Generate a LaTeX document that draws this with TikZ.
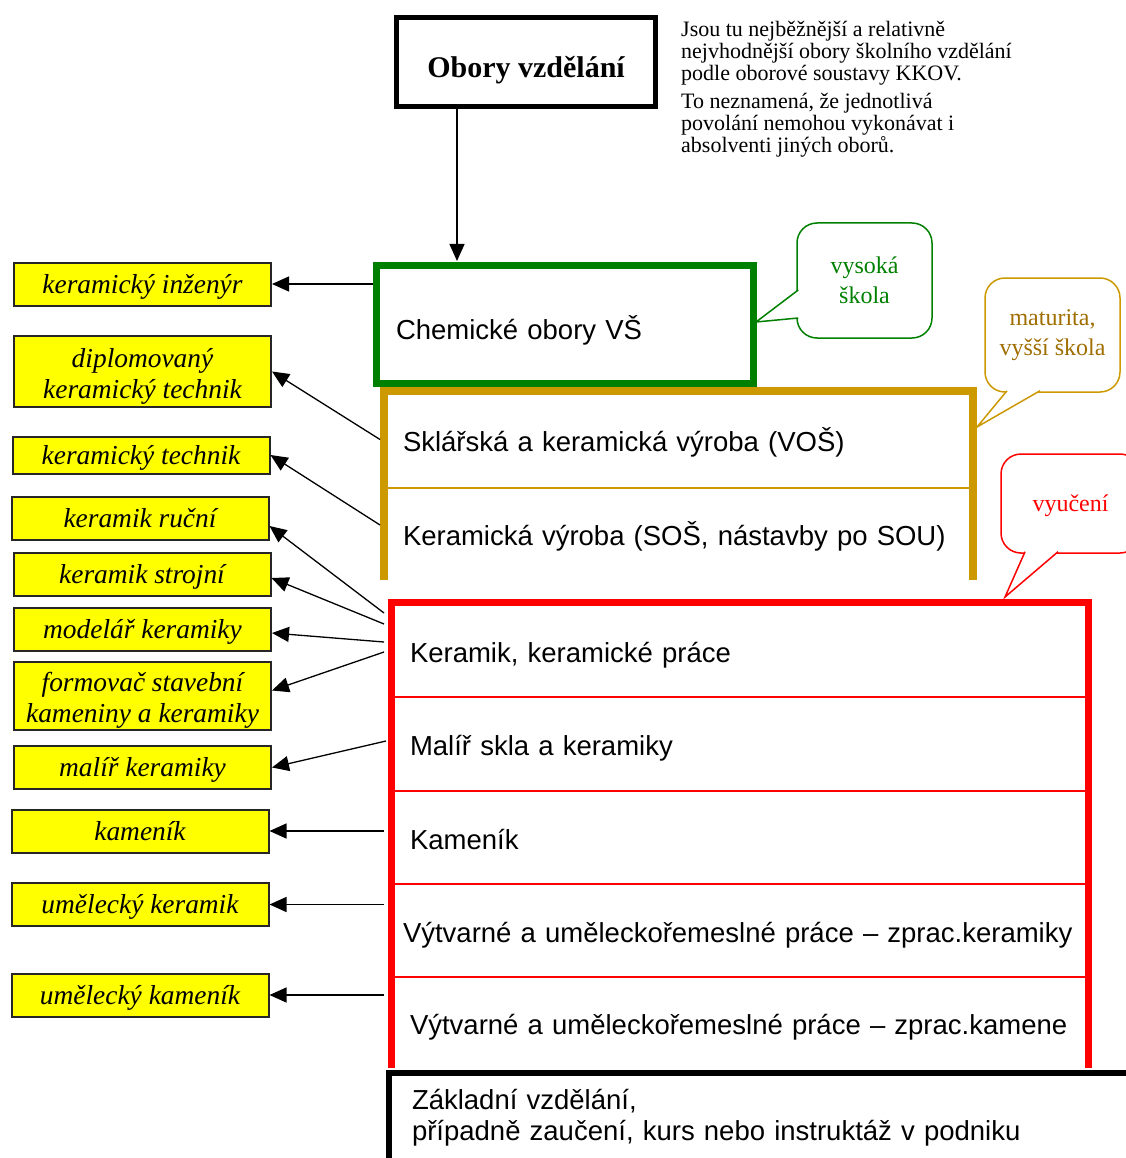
\documentclass[tikz,border=0pt]{standalone}
\usepackage{fontspec}
\setmainfont{Liberation Serif}
\setsansfont{Liberation Sans}
\usepackage{tikz}
\usetikzlibrary{arrows.meta,positioning}
\definecolor{zelena}{RGB}{0,128,0}
\definecolor{okr}{RGB}{204,153,0}
\definecolor{okrtext}{RGB}{160,110,0}
\definecolor{cervena}{RGB}{255,0,0}
\definecolor{zluta}{RGB}{255,255,0}

\begin{document}
\begin{tikzpicture}[x=1pt, y=-1pt, povolani/.style={rectangle, draw=black!85, line width=2pt, fill=zluta, minimum width=257pt, minimum height=43pt, align=center, inner sep=2pt, text height=18pt, text depth=0pt, font=\fontsize{27.4}{31}\selectfont\itshape}, dvaradky/.style={text height=55pt, text depth=2pt}, radek/.style={rectangle, inner xsep=19pt, inner ysep=0pt, outer sep=0pt, align=left, text height=23pt, text depth=0pt, font=\sffamily\fontsize{27.5}{31}\selectfont}, bublina/.style={rectangle, rounded corners=20pt, draw, fill=white, line width=1.5pt, align=center, font=\fontsize{24}{30}\selectfont}, sipka/.style={-{Triangle[length=17pt,width=15pt]}, line width=1.3pt}]
        \useasboundingbox[fill=white] (0,0) rectangle (1125,1158);
        \node[draw, line width=5pt, minimum width=259pt, minimum height=89pt, text height=32pt, text depth=0pt, font=\bfseries\fontsize{30}{36}\selectfont] (obory) at (526,62) {Obory vzdělání};
        \node[anchor=north west, inner sep=0pt, align=left, font=\fontsize{22}{22}\selectfont] (pozn) at (681,21) {Jsou tu nejběžnější a relativně\\nejvhodnější obory školního vzdělání\\podle oborové soustavy KKOV.\\[6pt]To neznamená, že jednotlivá\\povolání nemohou vykonávat i\\absolventi jiných oborů.};
        \node[radek, draw=zelena, line width=7pt, inner xsep=20pt, text width=337pt, text height=30pt, minimum height=118pt] (vs) at (564.5,324) {Chemické obory VŠ};
        \node[radek, text width=551pt, minimum height=97pt] (vos) at (678.5,439.5) {Sklářská a keramická výroba (VOŠ)};
        \node[radek, text width=551pt, minimum height=92pt, below=0pt of vos] (sos) {Keramická výroba (SOŠ, nástavby po SOU)};
        \node[radek, text width=659pt, text height=25pt, minimum height=95pt] (keramprace) at (739.5,649.5) {Keramik, keramické práce};
        \node[radek, text width=659pt, minimum height=94pt, below=0pt of keramprace] (malirskla) {Malíř skla a keramiky};
        \node[radek, text width=659pt, minimum height=93pt, below=0pt of malirskla] (kamenobor) {Kameník};
        \node[radek, inner xsep=12pt, text width=673pt, minimum height=93pt, below=0pt of kamenobor] (vytvker) {Výtvarné a uměleckořemeslné práce – zprac.keramiky};
        \node[radek, text width=659pt, minimum height=91pt, below=0pt of vytvker] (vytvkam) {Výtvarné a uměleckořemeslné práce – zprac.kamene};
        \draw[okr, line width=8pt] (sos.south west) -- (vos.north west) -- (vos.north east) -- (sos.south east);
        \draw[okr, line width=1.5pt] (vos.south west) -- (vos.south east);
        \draw[cervena, line width=7pt] (vytvkam.south west) -- (keramprace.north west) -- (keramprace.north east) -- (vytvkam.south east);
        \foreach \r in {keramprace, malirskla, kamenobor, vytvker}
          \draw[cervena, line width=1.5pt] (\r.south west) -- (\r.south east);
        \node[rectangle, draw, fill=white, line width=6pt, inner xsep=23pt, inner ysep=0pt, align=left, text width=705pt, minimum height=91pt, font=\sffamily\fontsize{27.5}{31}\selectfont] (zakladni) at (764.5,1118) {Základní vzdělání,\\případně zaučení, kurs nebo instruktáž v podniku};
        \node[povolani] (inzenyr) at (142.5,284) {keramický inženýr};
        \node[povolani, dvaradky, minimum height=71pt] (diptech) at (142.5,371.5) {diplomovaný\\keramický technik};
        \node[povolani, minimum height=37pt] (technik) at (141,455) {keramický technik};
        \node[povolani] (rucni) at (140,518) {keramik ruční};
        \node[povolani] (strojni) at (142,574) {keramik strojní};
        \node[povolani] (modelar) at (142.5,629) {modelář keramiky};
        \node[povolani, dvaradky, minimum height=68pt] (formovac) at (142.5,695.5) {formovač stavební\\kameniny a keramiky};
        \node[povolani] (malir) at (142.5,767.5) {malíř keramiky};
        \node[povolani] (kamenik) at (140,831) {kameník};
        \node[povolani] (umker) at (140,904.5) {umělecký keramik};
        \node[povolani] (umkam) at (140,995) {umělecký kameník};
        \draw[sipka, shorten >=4pt] ([xshift=-69pt]obory.south) -- ([xshift=-69pt]obory.south |- vs.north);
        \draw[sipka] ([xshift=-3.5pt]vs.west |- inzenyr.east) -- (inzenyr.east);
        \draw[sipka] ([xshift=-4pt]vos.west) -- (diptech.east);
        \draw[sipka] ([xshift=-4pt,yshift=9pt]sos.west) -- (technik.east);
        \draw[sipka] ([xshift=-7pt,yshift=36.5pt]keramprace.west) -- ([yshift=-8pt]rucni.east);
        \draw[sipka] ([xshift=-7pt,yshift=25.5pt]keramprace.west) -- ([yshift=-4pt]strojni.east);
        \draw[sipka] ([xshift=-7pt,yshift=7.5pt]keramprace.west) -- ([yshift=-4pt]modelar.east);
        \draw[sipka] ([xshift=-7pt,yshift=-2.5pt]keramprace.west) -- ([yshift=5pt]formovac.east);
        \draw[sipka] ([xshift=-5pt,yshift=3pt]malirskla.west) -- (malir.east);
        \draw[sipka] ([xshift=-7pt]kamenobor.west |- kamenik.east) -- (kamenik.east);
        \draw[sipka] ([xshift=-7pt]vytvker.west |- umker.east) -- (umker.east);
        \draw[sipka] ([xshift=-7pt]vytvkam.west |- umkam.east) -- (umkam.east);
        \node[bublina, draw=zelena, text=zelena, minimum width=135pt, minimum height=115pt] (vysoka) at (864.5,280.5) {vysoká\\škola};
        \draw[zelena, fill=white, line width=1.5pt] ([xshift=2pt,yshift=-9.5pt]vysoka.west) -- ([xshift=3pt,yshift=2pt]vs.east) -- ([xshift=2pt,yshift=-37.5pt]vysoka.west);
        \node[bublina, draw=okr, text=okrtext, minimum width=135pt, minimum height=114pt] (maturita) at (1052.5,335) {maturita,\\vyšší škola};
        \draw[okr, fill=white, line width=1.5pt] ([xshift=-45.5pt,yshift=2pt]maturita.south) -- ([xshift=4pt,yshift=12.5pt]vos.east) -- ([xshift=-12.5pt,yshift=2pt]maturita.south);
        \node[bublina, draw=cervena, text=cervena, minimum width=139pt, minimum height=99pt, text height=16pt, text depth=0pt] (vyuceni) at (1070.5,503.5) {vyučení};
        \draw[cervena, fill=white, line width=1.5pt] ([xshift=-45.5pt,yshift=2pt]vyuceni.south) -- ([xshift=-83pt,yshift=5pt]keramprace.north east) -- ([xshift=-12.5pt,yshift=2pt]vyuceni.south);
      \end{tikzpicture}
\end{document}
